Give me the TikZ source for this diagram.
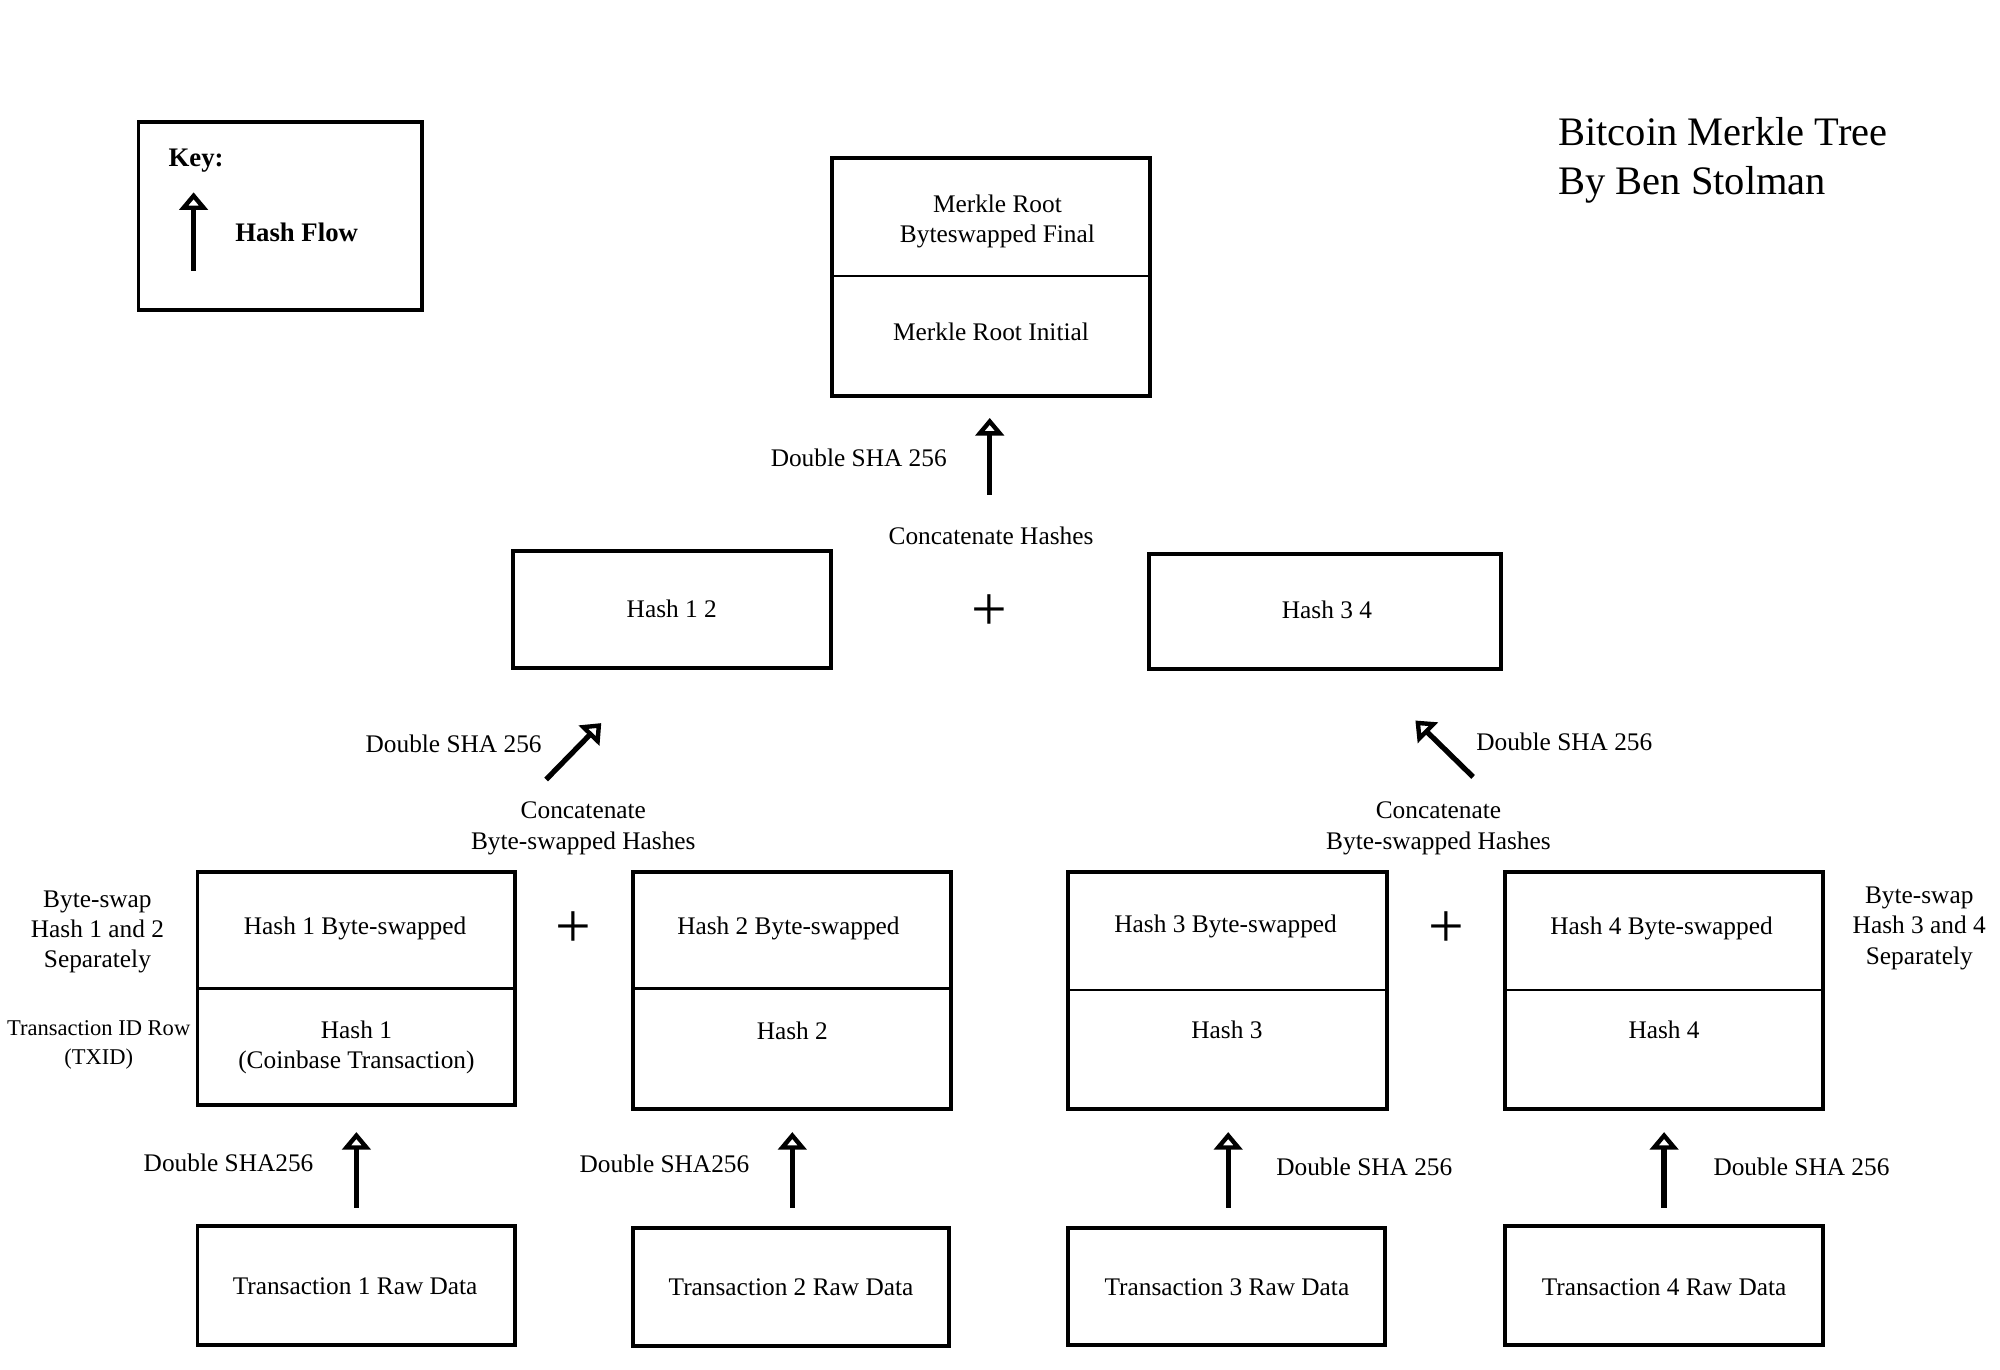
\documentclass[tikz,border=0pt]{standalone}
\usepackage{fontspec}
\setmainfont{Liberation Serif}
\usetikzlibrary{arrows.meta}
\begin{document}
\begin{tikzpicture}[x=0.0128cm,y=-0.0128cm,
  box/.style={draw,line width=1.1pt},
  div/.style={line width=0.6pt},
  t/.style={font=\fontsize{7.2}{8.6}\selectfont,align=center,inner sep=0pt},
  flow/.style={line width=1.5pt,-{Triangle[open,width=8pt,length=5pt,line width=1.3pt]}},
  plus/.style={font=\fontsize{18}{18}\selectfont,inner sep=0pt}]
\useasboundingbox[fill=white] (0,0) rectangle (1560,1068);
% key
\draw[box] (108,95) rectangle (329,242);
\node[t,font=\bfseries\fontsize{7.6}{9}\selectfont,anchor=west] (key) at (131,125) {Key:};
\coordinate (k0) at (151,211); \coordinate (k1) at (151,150);
\draw[flow] (k0) -- (k1);
\node[t,font=\bfseries\fontsize{7.6}{9}\selectfont,anchor=west] (hf) at (183,181) {Hash Flow};
% title
\node[anchor=west,align=left,font=\fontsize{11.5}{14}\selectfont,inner sep=0pt] (title) at (1215,125) {Bitcoin Merkle Tree\\By Ben Stolman};
% merkle root
\draw[box] (649,123) rectangle (897,309);
\draw[div] (649,215) -- (897,215);
\node[t] (mrf) at (778,173) {Merkle Root\\Byteswapped Final};
\node[t] (mri) at (773,259) {Merkle Root Initial};
\coordinate (a0) at (772,386); \coordinate (a1) at (772,326);
\draw[flow] (a0) -- (a1);
\node[t,anchor=east] (l0) at (739,357) {Double SHA 256};
\node[t] (c0) at (773,418) {Concatenate Hashes};
% level 2
\draw[box] (400,430) rectangle (648,521); \node[t] (h12) at (524,475) {Hash 1 2};
\draw[box] (896,432) rectangle (1171,522); \node[t] (h34) at (1035,476) {Hash 3 4};
\node[plus] (p0) at (772,478) {+};
\coordinate (b0) at (426,608); \coordinate (b1) at (469,564);
\draw[flow] (b0) -- (b1);
\node[t,anchor=east] (l1) at (423,580) {Double SHA 256};
\coordinate (c0a) at (1149,606); \coordinate (c1a) at (1104,562);
\draw[flow] (c0a) -- (c1a);
\node[t,anchor=west] (l2) at (1151,579) {Double SHA 256};
\node[t] (cc1) at (455,646) {Concatenate\\Byte-swapped Hashes};
\node[t] (cc2) at (1122,646) {Concatenate\\Byte-swapped Hashes};
% level 1
\draw[box] (154,680) rectangle (402,862); \draw[div] (154,771) -- (402,771);
\node[t] (s1) at (277,724) {Hash 1 Byte-swapped};
\node[t] (x1) at (278,817) {Hash 1\\(Coinbase Transaction)};
\draw[box] (494,680) rectangle (742,865); \draw[div] (494,771) -- (742,771);
\node[t] (s2) at (615,724) {Hash 2 Byte-swapped};
\node[t] (x2) at (618,804) {Hash 2};
\draw[box] (833,680) rectangle (1082,865); \draw[div] (833,772) -- (1082,772);
\node[t] (s3) at (956,723) {Hash 3 Byte-swapped};
\node[t] (x3) at (957,803) {Hash 3};
\draw[box] (1174,680) rectangle (1422,865); \draw[div] (1174,772) -- (1422,772);
\node[t] (s4) at (1296,724) {Hash 4 Byte-swapped};
\node[t] (x4) at (1298,803) {Hash 4};
\node[plus] (p1) at (447,725) {+};
\node[plus] (p2) at (1128,725) {+};
\node[t] (bs1) at (76,727) {Byte-swap\\Hash 1 and 2\\Separately};
\node[t,font=\fontsize{6.4}{8}\selectfont] (txid) at (77,815) {Transaction ID Row\\(TXID)};
\node[t] (bs2) at (1497,724) {Byte-swap\\Hash 3 and 4\\Separately};
% arrows from raw data
\foreach \i/\x in {1/278,2/618,3/958,4/1298}{
  \coordinate (r\i a) at (\x,942); \coordinate (r\i b) at (\x,883);
  \draw[flow] (r\i a) -- (r\i b);}
\node[t,anchor=east] (d1) at (245,907) {Double SHA256};
\node[t,anchor=east] (d2) at (585,908) {Double SHA256};
\node[t,anchor=west] (d3) at (995,910) {Double SHA 256};
\node[t,anchor=west] (d4) at (1336,910) {Double SHA 256};
% raw data
\draw[box] (154,956) rectangle (402,1049); \node[t] (t1) at (277,1003) {Transaction 1 Raw Data};
\draw[box] (494,958) rectangle (740,1050); \node[t] (t2) at (617,1004) {Transaction 2 Raw Data};
\draw[box] (833,958) rectangle (1080,1049); \node[t] (t3) at (957,1004) {Transaction 3 Raw Data};
\draw[box] (1174,956) rectangle (1422,1049); \node[t] (t4) at (1298,1004) {Transaction 4 Raw Data};
\end{tikzpicture}
\end{document}
